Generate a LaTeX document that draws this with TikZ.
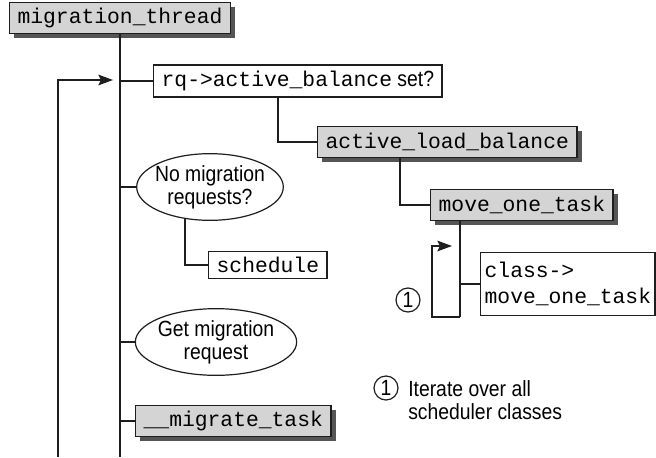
\documentclass[tikz,border=0pt]{standalone}
\usepackage{fontspec}
\setmainfont{Liberation Sans}[FakeStretch=0.88]
\newfontfamily\codefont{Liberation Mono}
\usetikzlibrary{shapes.geometric,shadows,arrows.meta}
\definecolor{boxGray}{HTML}{D4D4D4}
\definecolor{shadeGray}{HTML}{555555}
\definecolor{inkGray}{HTML}{1E1E1E}
\newcommand{\codeSize}{\codefont\fontsize{16}{19}\selectfont}
\newcommand{\noteSize}{\fontsize{16.5}{17.5}\selectfont}

\begin{document}
\begin{tikzpicture}[x=0.75pt, y=-0.75pt,
    schedLineS/.style={draw=inkGray, line width=1.1pt},
    schedArrS/.style={schedLineS, -{Stealth[length=11pt,width=8pt,inset=2pt]}},
    schedBoxS/.style={draw=inkGray, line width=1pt, fill=boxGray, font=\codeSize,
        inner xsep=6pt, inner ysep=0pt, minimum height=23pt,
        drop shadow={shadow xshift=3.5pt, shadow yshift=-3.5pt, fill=shadeGray, opacity=1}},
    schedPlainS/.style={draw=inkGray, line width=1pt, fill=white, font=\codeSize,
        inner xsep=6pt, inner ysep=0pt, minimum height=20pt},
    schedAskS/.style={ellipse, draw=inkGray, line width=0.9pt, font=\noteSize, align=center,
        inner xsep=-4pt, inner ysep=0pt, minimum height=50pt},
    schedNumS/.style={circle, draw=inkGray, line width=0.9pt, font=\noteSize,
        inner sep=0pt, minimum size=18pt},
]
\useasboundingbox (0,0) rectangle (656,457);
% Functions and tests
\node[schedBoxS] (mt) at (120,18) {migration\_thread};
\node[schedPlainS, anchor=west, minimum height=24pt] (rq) at (153,81) {rq->active\_balance{\normalfont\noteSize\ set?}};
\node[schedBoxS, anchor=west] (alb) at (317,142) {active\_load\_balance};
\node[schedBoxS, anchor=west] (mot) at (430,205) {move\_one\_task};
\node[schedPlainS, anchor=west, align=left, minimum height=47pt, inner xsep=3pt] (cls) at (480,284) {class->\\move\_one\_task};
\node[schedAskS, minimum width=110pt] (nomig) at (210,187) {No migration\\requests?};
\node[schedPlainS, anchor=west] (sched) at (208,265) {schedule};
\node[schedAskS, minimum width=121pt] (getmig) at (216,342) {Get migration\\request};
\node[schedBoxS, anchor=west] (migt) at (135,421) {\_\_migrate\_task};
% Loop marks and legend
\node[schedNumS] (numA) at (408,300) {1};
\node[schedNumS] (numB) at (386,388) {1};
\node[font=\noteSize, align=left, anchor=west, inner sep=0pt] (note) at (408,400) {Iterate over all\\scheduler classes};
\coordinate (trunkEnd) at (120,457);
\coordinate (loopEnd) at (58,457);
\coordinate (loopIn) at (113,80);
\coordinate (motTrunk) at (460,317);
\coordinate (motLoopL) at (432,317);
\coordinate (motLoopIn) at (452,246);
% Main trunk and back loop
\draw[schedLineS] (mt.south) -- (trunkEnd);
\draw[schedArrS] (loopEnd) |- (loopIn);
\foreach \n in {rq,nomig,getmig,migt}
    \draw[schedLineS] (\n.west) -- (\n.west -| mt.south);
% Nested calls
\draw[schedLineS] (rq.south west) ++(125,0) |- (alb.west);
\draw[schedLineS] (alb.south west) ++(83,0) |- (mot.west);
\draw[schedLineS] (nomig.232) |- (sched.west);
% Per-class loop
\draw[schedLineS] (mot.south -| motTrunk) -- (motTrunk);
\draw[schedArrS] (motTrunk) -- (motLoopL) |- (motLoopIn);
\draw[schedLineS] (cls.west) -- (cls.west -| motTrunk);
\end{tikzpicture}
\end{document}
